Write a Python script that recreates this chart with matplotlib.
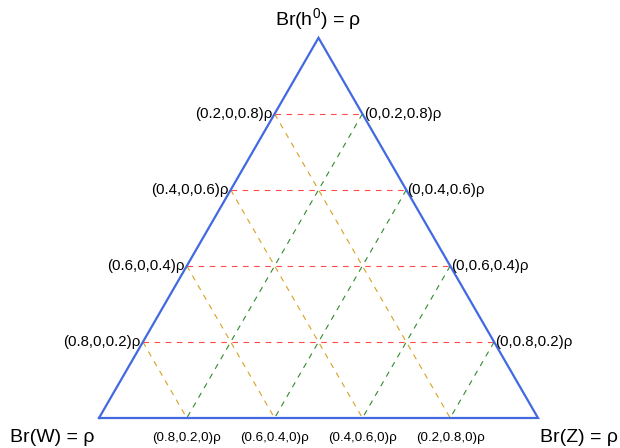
import numpy as np
import matplotlib.pyplot as plt

plt.rcParams['font.family'] = ['Liberation Sans', 'DejaVu Sans']
plt.rcParams['mathtext.fontset'] = 'custom'
plt.rcParams['mathtext.rm'] = 'Liberation Sans'
plt.rcParams['mathtext.it'] = 'Liberation Sans'

fracs = [0.2, 0.4, 0.6, 0.8]
corner_labels = ['Br(W) = ρ', 'Br(Z) = ρ', 'Br(h$^{0}$) = ρ']


def fmt(v):
    return '0' if v == 0 else ('%.1f' % v)


def xy(w, z, h):
    # barycentric (W, Z, h) -> cartesian, W at origin, Z at (1,0)
    return z + h / 2.0, h * np.sqrt(3) / 2.0


fig = plt.figure(figsize=(6.2, 4.48), dpi=100)
ax = fig.add_axes([0, 0, 1, 1])
ax.set_xlim(-99 / 439, 521 / 439)
ax.set_ylim(-30 / 439, 418 / 439)
ax.axis('off')

dash = (0, (5, 5))
for t in fracs:
    w = round(1 - t, 1)
    # red horizontals: constant h
    p1 = xy(w, 0, t)
    p2 = xy(0, w, t)
    ax.plot([p1[0], p2[0]], [p1[1], p2[1]], color='#ff4a4a', lw=0.8, ls=dash)
    # orange: constant W
    a = xy(t, 0, w)
    b = xy(t, w, 0)
    ax.plot([a[0], b[0]], [a[1], b[1]], color='#d9a022', lw=0.8, ls=dash)
    # green: constant Z
    a = xy(0, t, w)
    b = xy(w, t, 0)
    ax.plot([a[0], b[0]], [a[1], b[1]], color='#2e8b2e', lw=0.8, ls=dash)

tri = np.array([xy(1, 0, 0), xy(0, 1, 0), xy(0, 0, 1), xy(1, 0, 0)])
ax.plot(tri[:, 0], tri[:, 1], color='#4169e1', lw=1.6, solid_joinstyle='miter')

fs_side = 10.8
fs_bot = 9.6
for t in fracs:
    w = round(1 - t, 1)
    x, y = xy(w, 0, t)
    ax.text(x - 0.005, y, '(%s,0,%s)ρ' % (fmt(w), fmt(t)), ha='right', va='center', fontsize=fs_side)
    x, y = xy(0, w, t)
    ax.text(x + 0.003, y, '(0,%s,%s)ρ' % (fmt(w), fmt(t)), ha='left', va='center', fontsize=fs_side)
    x, y = xy(w, t, 0)
    ax.text(x, -20 / 439, '(%s,%s,0)ρ' % (fmt(w), fmt(t)), ha='center', va='center', fontsize=fs_bot)

ax.text(-47 / 439, -19 / 439, corner_labels[0], ha='center', va='center', fontsize=14)
ax.text(480 / 439, -19 / 439, corner_labels[1], ha='center', va='center', fontsize=14)
ax.text(219 / 439, 399 / 439, corner_labels[2], ha='center', va='center', fontsize=14)

fig.savefig('out.png', dpi=100)
